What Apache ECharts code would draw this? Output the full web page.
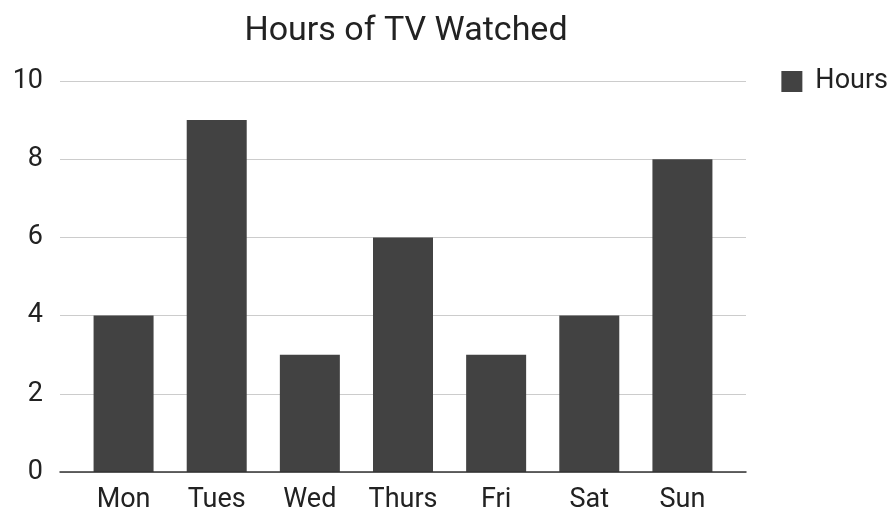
<!DOCTYPE html>
<html>
<head>
<meta charset="utf-8">
<script src="https://cdn.jsdelivr.net/npm/echarts@6/dist/echarts.min.js"></script>
<style>
html,body{margin:0;padding:0;background:#fff;}
#chart{width:889px;height:509px;}
</style>
</head>
<body>
<div id="chart"></div>
<script>
var days=["Mon","Tues","Wed","Thurs","Fri","Sat","Sun"];
var hours=[4,9,3,6,3,4,8];
var yTicks=[0,2,4,6,8,10];

var myChart=echarts.init(document.getElementById('chart'));
var font="Roboto";
var option={
	animation:false,
	backgroundColor:"#fff",
	title:{
		text:"Hours of TV Watched",
		left:401,top:9,textAlign:"center",
		textStyle:{fontFamily:font,fontSize:34,fontWeight:"normal",color:"#222"}
	},
	legend:{
		right:-4,top:63,
		itemWidth:21,itemHeight:21,itemGap:10,
		icon:"rect",
		textStyle:{fontFamily:font,fontSize:27,color:"#222",padding:[0,0,0,8]},
		data:["Hours"]
	},
	grid:[
		{left:60,right:143,top:81,bottom:37,outerBoundsMode:"none",containLabel:false},//网格线
		{left:77,right:160,top:81,bottom:37,outerBoundsMode:"none",containLabel:false}//柱子
	],
	xAxis:[
		{type:"category",gridIndex:0,data:days,
			axisLine:{lineStyle:{color:"#333",width:1.5}},
			axisTick:{show:false},axisLabel:{show:false},z:5},
		{type:"category",gridIndex:1,data:days,
			axisLine:{show:false},axisTick:{show:false},
			axisLabel:{fontFamily:font,fontSize:27,color:"#222",margin:15}}
	],
	yAxis:[
		{type:"value",gridIndex:0,min:yTicks[0],max:yTicks[yTicks.length-1],interval:2,
			axisLine:{show:false},axisTick:{show:false},
			axisLabel:{fontFamily:font,fontSize:27,color:"#222",margin:17},
			splitLine:{lineStyle:{color:"#ccc",width:1}}},
		{type:"value",gridIndex:1,min:0,max:10,interval:2,show:false,splitLine:{show:false}}
	],
	series:[{
		name:"Hours",type:"bar",xAxisIndex:1,yAxisIndex:1,
		data:hours,barWidth:60,
		itemStyle:{color:"#424242"}
	}]
};
myChart.setOption(option);
</script>
</body>
</html>
